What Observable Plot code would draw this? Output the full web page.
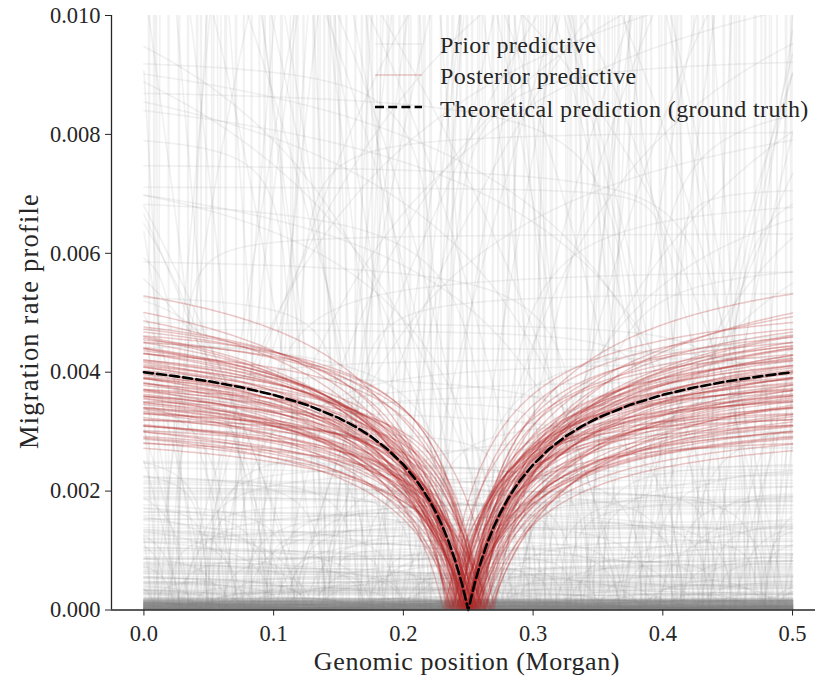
<!DOCTYPE html>
<html><head><meta charset="utf-8">
<script src="https://cdn.jsdelivr.net/npm/d3@7"></script>
<script src="https://cdn.jsdelivr.net/npm/@observablehq/plot@0.6"></script>
<style>body{margin:0;background:#fff}#wrap{width:815px;height:679px}</style>
</head><body><div id="wrap"></div>
<script>
// ---------- data (read / estimated from the reference) ----------
const xTicks = [0, 0.1, 0.2, 0.3, 0.4, 0.5];
const yTicks = [0, 0.002, 0.004, 0.006, 0.008, 0.010];
const legendLabels = ["Prior predictive", "Posterior predictive", "Theoretical prediction (ground truth)"];
const xLabel = "Genomic position (Morgan)";
const yLabel = "Migration rate profile";

// theoretical prediction (dashed)
const theoryX = [0,0.0125,0.025,0.05,0.075,0.1,0.125,0.15,0.1625,0.175,0.1875,0.2,0.21,0.215,0.22,0.225,0.23,0.235,0.24,0.245,0.25,
  0.255,0.26,0.265,0.27,0.275,0.28,0.285,0.29,0.3,0.3125,0.325,0.3375,0.35,0.375,0.4,0.425,0.45,0.475,0.4875,0.5];
const theoryY = [0.003999,0.003966,0.003930,0.003848,0.003746,0.003619,0.003454,0.003232,0.003090,0.002919,0.002709,0.002445,0.002180,0.002023,0.001846,0.001644,0.001413,0.001144,0.000829,0.000454,0,
  0.000454,0.000829,0.001144,0.001413,0.001644,0.001846,0.002023,0.002180,0.002445,0.002709,0.002919,0.003090,0.003232,0.003454,0.003619,0.003746,0.003848,0.003930,0.003966,0.003999];

// posterior predictive curves: level far from the cusp, sharpness, cusp position
const postLevel = [0.0040,0.0036,0.0044,0.0031,0.0047,0.0039,0.0034,0.0042,0.0029,0.0045,
0.0033,0.0038,0.0050,0.0035,0.0041,0.0030,0.0043,0.0037,0.0032,0.0046,
0.0039,0.0028,0.0044,0.0035,0.0040,0.0048,0.0033,0.0037,0.0042,0.0031,
0.0036,0.0045,0.0029,0.0039,0.0034,0.0043,0.0038,0.0027,0.0041,0.0035,
0.0032,0.0046,0.0037,0.0040,0.0030,0.0044,0.0036,0.0049,0.0033,0.0039,
0.0042,0.0031,0.0038,0.0035,0.0045,0.0028,0.0041,0.0034,0.0037,0.0043,
0.0030,0.0040,0.0047,0.0036,0.0032,0.0039,0.0044,0.0035,0.0038,0.0053,
0.0033,0.0041,0.0037,0.0029,0.0042,0.0036,0.0040,0.0034,0.0046,0.0031];
const postS = [0.05,0.035,0.06,0.025,0.045,0.07,0.03,0.055,0.04,0.065,
0.02,0.05,0.08,0.035,0.045,0.06,0.025,0.04,0.055,0.075,
0.03,0.05,0.065,0.02,0.045,0.035,0.06,0.085,0.04,0.05,
0.07,0.025,0.055,0.03,0.045,0.065,0.04,0.05,0.035,0.06,
0.015,0.075,0.045,0.05,0.03,0.055,0.04,0.07,0.025,0.06,
0.05,0.035,0.08,0.045,0.04,0.02,0.065,0.05,0.03,0.055,
0.045,0.07,0.035,0.06,0.025,0.05,0.04,0.075,0.03,0.055,
0.065,0.045,0.02,0.05,0.035,0.06,0.04,0.085,0.03,0.05];
const postC = [0.250,0.246,0.254,0.241,0.259,0.248,0.252,0.237,0.263,0.249,
0.244,0.256,0.251,0.239,0.261,0.247,0.253,0.235,0.266,0.250,
0.243,0.257,0.248,0.255,0.245,0.233,0.268,0.251,0.242,0.258,
0.249,0.253,0.240,0.260,0.246,0.254,0.238,0.262,0.250,0.247,
0.252,0.244,0.256,0.236,0.264,0.249,0.251,0.241,0.259,0.248,
0.253,0.245,0.255,0.231,0.270,0.250,0.246,0.254,0.243,0.257,
0.248,0.252,0.239,0.261,0.247,0.253,0.234,0.267,0.250,0.245,
0.255,0.242,0.258,0.249,0.251,0.237,0.263,0.244,0.256,0.250];

// prior predictive: near-zero curves (dark band at the bottom)
const floorLevel = [0.000005,0.000012,0.000020,0.000030,0.000042,0.000055,0.000068,0.000080,0.000095,0.000110,
0.000125,0.000140,0.000155,0.000170,0.000008,0.000016,0.000025,0.000036,0.000048,0.000061,
0.000074,0.000088,0.000102,0.000118,0.000133,0.000148,0.000163,0.000010,0.000022,0.000033,
0.000045,0.000058,0.000071,0.000085,0.000099,0.000114,0.000129,0.000144,0.000159,0.000174,
0.000006,0.000014,0.000027,0.000039,0.000052,0.000065,0.000078,0.000092,0.000106,0.000121,
0.000136,0.000151,0.000166,0.000018,0.000031,0.000044,0.000057,0.000070,0.000083,0.000097];
const floorS = [0.003,0.008,0.001,0.005,0.012,0.002,0.007,0.004,0.010,0.006,
0.002,0.009,0.005,0.001,0.011,0.004,0.007,0.003,0.013,0.006,
0.002,0.008,0.005,0.010,0.001,0.006,0.004,0.012,0.003,0.009,
0.007,0.002,0.011,0.005,0.003,0.008,0.001,0.006,0.014,0.004,
0.009,0.003,0.007,0.002,0.010,0.005,0.012,0.001,0.006,0.004,
0.008,0.003,0.011,0.006,0.002,0.009,0.005,0.013,0.004,0.007];
const floorC = [0.072,0.318,0.196,0.447,0.023,0.381,0.134,0.268,0.492,0.157,
0.405,0.047,0.293,0.221,0.468,0.109,0.356,0.182,0.015,0.432,
0.249,0.087,0.374,0.143,0.484,0.206,0.061,0.327,0.459,0.118,
0.281,0.038,0.396,0.173,0.441,0.094,0.339,0.232,0.003,0.417,
0.164,0.302,0.056,0.476,0.212,0.129,0.365,0.081,0.258,0.426,
0.189,0.031,0.349,0.471,0.101,0.273,0.412,0.148,0.224,0.498];

// prior predictive: flat (horizontal-looking) curves
const flatLevel = [0.00003,0.00005,0.00008,0.00010,0.00012,0.00015,0.00004,0.00018,0.00006,0.00020,
0.00009,0.00014,0.00002,0.00016,0.00007,0.00011,0.00019,0.00013,0.00005,0.00017,
0.00010,0.00003,0.00015,0.00008,0.00012,0.00006,0.00018,0.00014,0.00009,0.00020,
0.00025,0.00032,0.00040,0.00048,0.00055,0.00030,0.00062,0.00070,0.00036,0.00078,
0.00085,0.00044,0.00092,0.00028,0.00058,0.00066,0.00098,0.00050,0.00074,0.00035,
0.00082,0.00042,0.00060,0.00026,0.00088,0.00052,0.00068,0.00038,0.00095,0.00046,
0.00105,0.00120,0.00135,0.00150,0.00165,0.00180,0.00195,0.00210,0.00225,0.00240,
0.00112,0.00128,0.00142,0.00158,0.00172,0.00188,0.00202,0.00218,0.00232,0.00248,
0.00115,0.00160,0.00200,0.00140,0.00185,
0.0027,0.0030,0.0033,0.0036,0.0039,0.0042,0.0045,0.0048,0.0029,0.0035,0.0041,0.0047,0.0032,0.0038,0.0044,
0.0053,0.0058,0.0063,0.0068,0.0074,0.0080,0.0086,0.0092,0.0056,0.0071];
const flatS = [0.002,0.008,0.004,0.015,0.001,0.006,0.012,0.003,0.009,0.005,
0.007,0.002,0.011,0.004,0.016,0.001,0.006,0.010,0.003,0.013,
0.005,0.009,0.002,0.014,0.004,0.007,0.001,0.012,0.006,0.003,
0.010,0.004,0.015,0.002,0.008,0.005,0.013,0.001,0.009,0.006,
0.003,0.011,0.007,0.002,0.016,0.004,0.010,0.006,0.001,0.012,
0.008,0.003,0.014,0.005,0.002,0.009,0.006,0.011,0.004,0.007,
0.002,0.010,0.005,0.013,0.003,0.008,0.001,0.012,0.006,0.004,
0.009,0.002,0.015,0.005,0.011,0.003,0.007,0.001,0.010,0.006,
0.004,0.013,0.002,0.008,0.005,
0.006,0.003,0.012,0.002,0.009,0.005,0.015,0.004,0.008,0.001,0.011,0.003,0.007,0.010,0.002,
0.004,0.009,0.002,0.012,0.006,0.003,0.008,0.005,0.010,0.001];
const flatC = [0.013,0.287,0.154,0.421,0.066,0.339,0.208,0.472,0.118,0.391,
0.245,0.031,0.362,0.179,0.448,0.092,0.305,0.227,0.494,0.141,
0.376,0.057,0.263,0.433,0.188,0.008,0.321,0.103,0.459,0.236,
0.162,0.404,0.045,0.278,0.127,0.357,0.481,0.213,0.079,0.316,
0.442,0.196,0.024,0.349,0.133,0.267,0.411,0.086,0.298,0.467,
0.171,0.039,0.384,0.252,0.112,0.428,0.202,0.061,0.333,0.487,
0.145,0.274,0.018,0.396,0.221,0.097,0.452,0.311,0.166,0.049,
0.368,0.239,0.124,0.415,0.073,0.292,0.478,0.184,0.035,0.345,
0.257,0.109,0.437,0.197,0.326,
0.052,0.283,0.416,0.138,0.371,0.021,0.246,0.464,0.175,0.309,0.094,0.398,0.217,0.069,0.489,
0.158,0.343,0.027,0.271,0.446,0.116,0.383,0.231,0.082,0.407];

// prior predictive: more low flat curves
const lowLevel = [0.00001,0.00002,0.00004,0.00006,0.00003,0.00008,0.00005,0.00011,0.00007,0.00013,
0.00002,0.00009,0.00004,0.00016,0.00006,0.00012,0.00003,0.00019,0.00008,0.00022,
0.00027,0.00034,0.00041,0.00029,0.00047,0.00053,0.00038,0.00061,0.00033,0.00072,
0.00081,0.00045,0.00094,0.00056,0.00107,0.00064,0.00124,0.00077,0.00138,0.00089,
0.00152,0.00101,0.00167,0.00118,0.00183,0.00131,0.00197,0.00146,0.00214,0.00162,
0.00229,0.00176,0.00244,0.00191,0.00122,0.00086,0.00207,0.00058,0.00236,0.00143];
const lowS = [0.001,0.004,0.002,0.007,0.003,0.010,0.005,0.002,0.008,0.004,
0.012,0.003,0.006,0.001,0.009,0.004,0.014,0.002,0.007,0.005,
0.003,0.011,0.006,0.002,0.009,0.004,0.013,0.001,0.008,0.005,
0.010,0.003,0.007,0.002,0.012,0.006,0.004,0.015,0.003,0.009,
0.005,0.002,0.011,0.004,0.008,0.001,0.006,0.013,0.003,0.010,
0.007,0.002,0.009,0.005,0.012,0.003,0.006,0.004,0.014,0.002];
const lowC = [0.036,0.264,0.147,0.403,0.088,0.331,0.219,0.486,0.125,0.372,
0.254,0.017,0.345,0.192,0.461,0.071,0.298,0.234,0.419,0.158,
0.383,0.042,0.276,0.445,0.109,0.008,0.314,0.169,0.497,0.227,
0.131,0.392,0.059,0.289,0.176,0.351,0.474,0.204,0.093,0.327,
0.436,0.185,0.028,0.366,0.117,0.259,0.408,0.078,0.303,0.456,
0.141,0.049,0.388,0.243,0.101,0.429,0.211,0.066,0.338,0.479];

// prior predictive: very steep (vertical-looking) curves
const steepLevel = [0.08,0.3,0.05,0.15,0.6,0.04,0.2,0.1,0.9,0.06,
0.12,0.035,0.4,0.07,0.25,0.05,0.18,0.5,0.09,0.03,
0.14,0.7,0.06,0.22,0.04,0.35,0.11,0.08,0.45,0.05,
0.16,0.03,0.28,0.1,0.8,0.06,0.2,0.04,0.13,0.55,
0.07,0.32,0.05,0.17,0.09,0.65,0.04,0.24,0.12,0.035,
0.38,0.08,0.19,0.05,0.3,0.1,0.06,0.75,0.15,0.04,
0.27,0.09,0.5,0.05,0.13,0.42,0.07,0.21,0.035,0.11,
0.6,0.06,0.16,0.04,0.34,0.08,0.23,0.05,0.95,0.1,
0.14,0.045,0.29,0.07,0.48,0.055,0.18,0.09,0.36,0.04,
0.12,0.68,0.065,0.2,0.05,0.26,0.085,0.4,0.06,0.15];
const steepS = [0.003,0.01,0.002,0.006,0.02,0.004,0.008,0.002,0.015,0.005,
0.007,0.003,0.012,0.004,0.009,0.002,0.006,0.018,0.005,0.003,
0.008,0.02,0.004,0.01,0.002,0.013,0.006,0.003,0.016,0.005,
0.009,0.002,0.011,0.004,0.019,0.006,0.007,0.003,0.005,0.014,
0.004,0.012,0.002,0.008,0.006,0.017,0.003,0.01,0.005,0.002,
0.013,0.004,0.009,0.003,0.011,0.006,0.002,0.02,0.007,0.004,
0.01,0.005,0.015,0.003,0.008,0.012,0.004,0.009,0.002,0.006,
0.018,0.005,0.007,0.003,0.011,0.004,0.01,0.002,0.02,0.006,
0.008,0.003,0.012,0.005,0.016,0.002,0.009,0.004,0.013,0.003,
0.007,0.019,0.005,0.01,0.002,0.011,0.006,0.014,0.004,0.008];
const steepC = [0.004,0.019,0.027,0.041,0.048,0.058,0.071,0.077,0.089,0.098,
0.106,0.114,0.123,0.131,0.139,0.147,0.156,0.163,0.172,0.181,
0.188,0.197,0.205,0.212,0.221,0.229,0.238,0.244,0.253,0.262,
0.269,0.277,0.286,0.293,0.301,0.309,0.318,0.326,0.333,0.342,
0.351,0.358,0.366,0.374,0.383,0.391,0.398,0.407,0.414,0.423,
0.431,0.439,0.447,0.456,0.463,0.471,0.479,0.488,0.495,0.011,
0.034,0.063,0.083,0.118,0.151,0.176,0.201,0.234,0.258,0.281,
0.297,0.314,0.337,0.362,0.387,0.402,0.427,0.452,0.476,0.499,
0.008,0.053,0.093,0.135,0.168,0.192,0.216,0.249,0.273,0.305,
0.329,0.355,0.379,0.411,0.435,0.459,0.483,0.044,0.143,0.347];

// prior predictive: diagonal / arched curves
const diagLevel = [0.012,0.03,0.008,0.05,0.015,0.022,0.009,0.04,0.018,0.07,
0.011,0.026,0.0065,0.035,0.014,0.06,0.02,0.0095,0.045,0.016,
0.028,0.0075,0.1,0.013,0.033,0.019,0.055,0.0085,0.024,0.038,
0.0105,0.065,0.017,0.029,0.0072,0.048,0.021,0.012,0.08,0.015,
0.025,0.0088,0.042,0.018,0.031,0.0068,0.058,0.014,0.036,0.023,
0.0098,0.075,0.016,0.027,0.0078,0.044,0.02,0.011,0.09,0.032];
const diagS = [1.0,0.5,0.1,2.0,0.3,0.8,0.15,1.5,0.4,0.6,
0.2,1.2,0.08,0.7,0.25,1.8,0.35,0.12,0.9,0.45,
1.1,0.09,0.55,0.3,1.4,0.5,0.75,0.18,0.65,1.6,
0.22,0.4,0.85,1.3,0.1,0.6,0.28,0.95,0.5,0.38,
1.7,0.14,1.0,0.32,0.7,0.07,0.45,0.2,1.2,0.55,
0.16,0.8,0.42,1.5,0.11,0.65,0.26,0.9,0.35,1.0];
const diagC = [0.112,0.385,0.447,0.063,0.271,0.184,0.029,0.338,0.426,0.153,
0.491,0.217,0.362,0.085,0.304,0.469,0.137,0.248,0.012,0.397,
0.176,0.455,0.228,0.051,0.319,0.412,0.096,0.283,0.478,0.141,
0.036,0.353,0.199,0.436,0.118,0.262,0.007,0.374,0.166,0.495,
0.241,0.074,0.328,0.418,0.147,0.286,0.023,0.462,0.193,0.349,
0.102,0.431,0.258,0.044,0.367,0.209,0.483,0.127,0.296,0.061];

// ---------- build curves ----------
function shape(d, s) { const r = (1 - Math.exp(-2 * d)) / 2; return r / (r + s); }
const grid = d3.range(0, 0.50001, 0.0025);
const offs = [1e-5, 3e-5, 1e-4, 3e-4, 1e-3, 2e-3];
function build(levels, ss, cs, tag) {
  const out = [];
  levels.forEach((p, i) => {
    const c = cs[i], s = ss[i], k = p / shape(0.25, s);
    const xs = grid.concat([c], offs.flatMap(e => [c - e, c + e]))
      .filter(x => x >= 0 && x <= 0.5).sort((a, b) => a - b);
    for (const x of xs) out.push({id: tag + i, x, y: k * shape(Math.abs(x - c), s)});
  });
  return out;
}
const prior = [
  ...build(floorLevel, floorS, floorC, "b"),
  ...build(flatLevel, flatS, flatC, "f"),
  ...build(lowLevel, lowS, lowC, "l"),
  ...build(steepLevel, steepS, steepC, "v"),
  ...build(diagLevel, diagS, diagC, "d")
];
const posterior = build(postLevel, postS, postC, "p");
const theory = theoryX.map((x, i) => ({x, y: theoryY[i]}));

const INK = "#262626";
const GRAY = "#808080", RED = "#b22222";
const GRAY_OP = 0.11, RED_OP = 0.25;

const chart = Plot.plot({
  width: 815, height: 679,
  marginLeft: 111, marginRight: 0, marginTop: 15, marginBottom: 69.5,
  style: {fontFamily: "'Liberation Serif', serif", fontSize: "22.5px", color: INK, background: "#fff"},
  x: {domain: [-0.025, 0.5177]},
  y: {domain: [0, 0.01]},
  marks: [
    Plot.line(prior, {x: "x", y: "y", z: "id", stroke: GRAY, strokeOpacity: GRAY_OP, strokeWidth: 1.6, clip: true}),
    Plot.line(posterior, {x: "x", y: "y", z: "id", stroke: RED, strokeOpacity: RED_OP, strokeWidth: 1.5, clip: true}),
    Plot.line(theory, {x: "x", y: "y", stroke: "#000", strokeWidth: 2.6, strokeDasharray: "9,4.2"}),
    Plot.axisX({ticks: xTicks, tickFormat: d3.format(".1f"), tickSize: 6, tickPadding: 9, label: null, stroke: INK}),
    Plot.axisY({ticks: yTicks, tickFormat: d3.format(".3f"), tickSize: 6, tickPadding: 5, label: null, stroke: INK}),
    Plot.ruleY([0], {stroke: INK, strokeWidth: 1.3}),
    Plot.ruleX([-0.025], {stroke: INK, strokeWidth: 1.3})
  ]
});
document.getElementById("wrap").appendChild(chart);

// axis labels and legend drawn into the same svg
const svg = d3.select(chart);
const font = "'Liberation Serif', serif";
svg.append("text").attr("x", 467).attr("y", 670).attr("text-anchor", "middle")
  .attr("font-family", font).attr("font-size", 26).attr("letter-spacing", 0.6).attr("fill", INK).text(xLabel);
svg.append("text").attr("transform", "translate(38,321) rotate(-90)").attr("text-anchor", "middle")
  .attr("font-family", font).attr("font-size", 26.5).attr("letter-spacing", 1.2).attr("fill", INK).text(yLabel);

const lg = svg.append("g").attr("text-anchor", "start");
const handleY = [44, 75, 107], textY = [53, 84, 116.5];
lg.append("line").attr("x1", 375).attr("x2", 422).attr("y1", handleY[0]).attr("y2", handleY[0])
  .attr("stroke", GRAY).attr("stroke-opacity", GRAY_OP).attr("stroke-width", 1.6);
lg.append("line").attr("x1", 375).attr("x2", 422).attr("y1", handleY[1]).attr("y2", handleY[1])
  .attr("stroke", RED).attr("stroke-opacity", RED_OP).attr("stroke-width", 1.5);
lg.append("line").attr("x1", 375).attr("x2", 422).attr("y1", handleY[2]).attr("y2", handleY[2])
  .attr("stroke", "#000").attr("stroke-width", 2.6).attr("stroke-dasharray", "9,4.2");
legendLabels.forEach((t, i) => {
  lg.append("text").attr("x", 440).attr("y", textY[i]).attr("font-family", font).attr("text-anchor", "start")
    .attr("font-size", 24).attr("letter-spacing", 0.4).attr("fill", INK).text(t);
});
</script>
</body></html>
